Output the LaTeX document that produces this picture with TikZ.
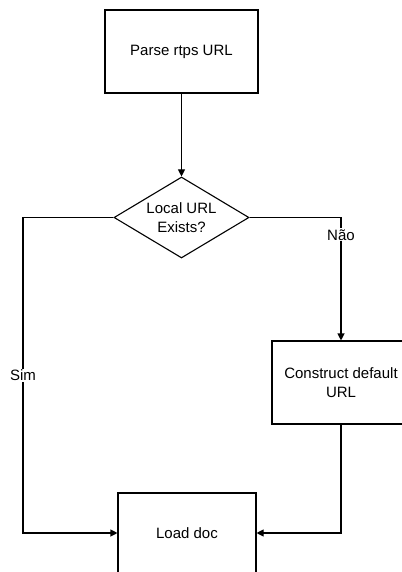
\documentclass[tikz,border=0pt]{standalone}
\usepackage{fontspec}
\setmainfont{Liberation Sans}
\usepackage{tikz}
\usetikzlibrary{arrows.meta, positioning, shapes.geometric}

\begin{document}
\begin{tikzpicture}[x=1pt, y=-1pt, >={Triangle[length=7pt, width=7pt]},
    box/.style={draw, line width=1.1pt, minimum width=138pt, minimum height=83pt, align=center, inner sep=0pt},
    decision/.style={draw, diamond, line width=1.1pt, minimum width=135pt, minimum height=81pt, inner sep=0pt},
    flow/.style={->, line width=1.1pt},
    answer/.style={fill=white, inner sep=1pt}]
    \fontsize{15pt}{19pt}\selectfont
    \useasboundingbox (0,0) rectangle (401,572);

    % blocos
    \node[box, minimum width=153pt] (parse) at (181.5,51.5) {Parse rtps URL};
    \node[decision, label={[align=center, font=\fontsize{15pt}{19pt}\selectfont]center:Local URL\\Exists?}] (exists) at (181.5,217.5) {};
    \node[box] (construct) at (341,382.5) {Construct default\\URL};
    \node[box, minimum height=80pt] (load) at (187,533) {Load doc};

    % ligacoes
    \coordinate (simx) at (23,217.5);
    \draw[flow] (parse) -- (exists);
    \draw[flow] (exists.west) -- (simx) |- node[answer, pos=0.25] {Sim} (load.west);
    \draw[flow] (exists.east) -| node[answer, pos=0.57] {Não} (construct.north);
    \draw[flow] (construct.south) |- (load.east);
\end{tikzpicture}
\end{document}
